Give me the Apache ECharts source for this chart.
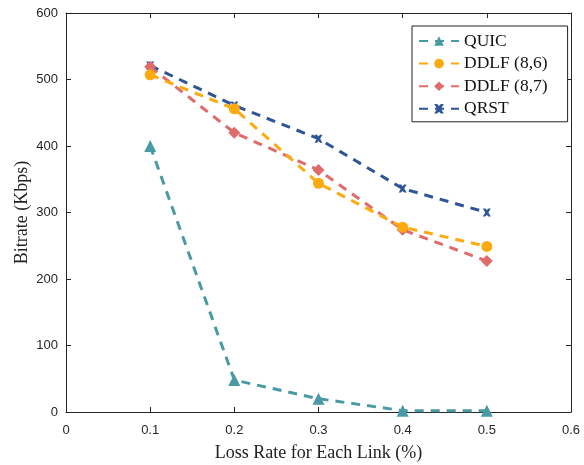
<!DOCTYPE html>
<html><head><meta charset="utf-8">
<script src="https://cdn.jsdelivr.net/npm/echarts@6/dist/echarts.min.js"></script>
<style>html,body{margin:0;padding:0;background:#fff}#c{width:584px;height:465px}</style>
</head><body><div id="c"></div>
<script>
var lossRates = [0.1, 0.2, 0.3, 0.4, 0.5];
var quic = [400, 48, 20, 2, 2];
var ddlf86 = [507, 456, 344, 278, 249];
var ddlf87 = [519, 420, 364, 274, 227];
var qrst = [521, 461, 411, 336, 300];
var seriesNames = ['QUIC', 'DDLF (8,6)', 'DDLF (8,7)', 'QRST'];

var xPath = 'path://M0,0 L3,0 L5,2 L7,0 L10,0 L7,5 L10,10 L7,10 L5,8 L3,10 L0,10 L3,5 Z';
var colors = ['#4a9aa3', '#fdaa0f', '#e06b6b', '#2e5597'];
var symbols = ['triangle', 'circle', 'diamond', xPath];
var sizes = [12, 11, 12, 8];
var datas = [quic, ddlf86, ddlf87, qrst];

function pairs(arr){ return lossRates.map(function(x,i){ return [x, arr[i]]; }); }

var series = seriesNames.map(function(n, k){
  return {
    name: n, type: 'line', data: pairs(datas[k]),
    symbol: symbols[k], symbolSize: sizes[k],
    lineStyle: {color: colors[k], width: 3, type: [9, 7]},
    itemStyle: {color: colors[k]},
    z: 10 - k
  };
});

var tickFont = {fontFamily: 'Liberation Sans', fontSize: 13, color: '#262626'};
var lineSt = {show: true, onZero: false, lineStyle: {color: '#262626', width: 1}};
var tickSt = {show: true, inside: true, length: 5, lineStyle: {color: '#262626'}};
var chart = echarts.init(document.getElementById('c'), null, {renderer: 'canvas'});
chart.setOption({
  animation: false,
  grid: {left: 66, right: 13, top: 13, bottom: 53, containLabel: false, outerBoundsMode: 'none'},
  legend: {
    data: seriesNames, orient: 'vertical', left: 412, top: 26,
    padding: [6, 20, 4, 6], itemGap: 4.6, itemWidth: 40, itemHeight: 12,
    borderColor: '#222', borderWidth: 1, backgroundColor: '#fff',
    textStyle: {fontFamily: 'Liberation Serif', fontSize: 17.5, color: '#111'}
  },
  xAxis: [{
    type: 'value', min: 0, max: 0.6, interval: 0.1,
    name: 'Loss Rate for Each Link (%)', nameLocation: 'middle', nameGap: 32, nameMoveOverlap: false,
    nameTextStyle: {fontFamily: 'Liberation Serif', fontSize: 18, color: '#222'},
    axisLine: lineSt, axisTick: tickSt,
    axisLabel: Object.assign({margin: 12, formatter: function(v){ return String(Math.round(v*10)/10); }}, tickFont),
    splitLine: {show: false}
  }, {
    type: 'value', min: 0, max: 0.6, interval: 0.1, position: 'top',
    axisLine: lineSt, axisTick: tickSt,
    axisLabel: {show: false}, splitLine: {show: false}
  }],
  yAxis: [{
    type: 'value', min: 0, max: 600, interval: 100,
    name: 'Bitrate (Kbps)', nameLocation: 'middle', nameGap: 35, nameMoveOverlap: false,
    nameTextStyle: {fontFamily: 'Liberation Serif', fontSize: 18, color: '#222'},
    axisLine: lineSt, axisTick: tickSt,
    axisLabel: Object.assign({margin: 8}, tickFont),
    splitLine: {show: false}
  }, {
    type: 'value', min: 0, max: 600, interval: 100, position: 'right',
    axisLine: lineSt, axisTick: tickSt,
    axisLabel: {show: false}, splitLine: {show: false}
  }],
  series: series
});
</script></body></html>
